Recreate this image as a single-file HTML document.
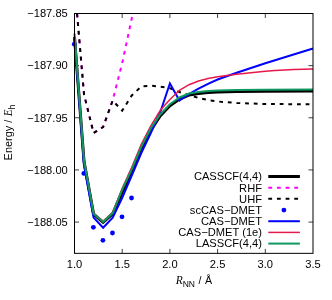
<!DOCTYPE html>
<html><head><meta charset="utf-8"><title>chart</title>
<style>html,body{margin:0;padding:0;background:#fff;width:332px;height:300px;overflow:hidden}</style>
</head><body>
<svg width="332" height="300" viewBox="0 0 332 300" style="position:absolute;left:0;top:0">
<defs><clipPath id="c"><rect x="71.50" y="13.50" width="244.50" height="239.85"/></clipPath></defs>
<rect width="332" height="300" fill="#fff"/>
<path d="M122.20,253.35 v-4.5 M122.20,13.5 v4.5 M169.90,253.35 v-4.5 M169.90,13.5 v4.5 M217.60,253.35 v-4.5 M217.60,13.5 v4.5 M265.30,253.35 v-4.5 M265.30,13.5 v4.5 M74.5,65.64 h4.5 M313.0,65.64 h-4.5 M74.5,117.78 h4.5 M313.0,117.78 h-4.5 M74.5,169.92 h4.5 M313.0,169.92 h-4.5 M74.5,222.07 h4.5 M313.0,222.07 h-4.5" stroke="#000" stroke-width="0.75" fill="none"/>
<g clip-path="url(#c)" fill="none" stroke-linejoin="miter">
<path d="M74.50,37.00 L84.04,161.50 L93.58,214.10 L103.12,222.30 L112.66,213.90 L122.20,192.20 L131.74,171.80 L141.28,149.00 L150.82,130.30 L160.36,115.70 L169.90,105.80 L179.44,99.00 L188.98,95.00 L198.52,93.40 L208.06,92.50 L217.60,92.00 L236.68,91.50 L265.30,91.30 L313.00,91.00" stroke="#000" stroke-width="3"/>
<path d="M74.50,-16.00 L84.04,94.50 L93.58,133.00 L103.12,127.00 L112.66,100.50 L122.20,63.00 L131.74,18.50 L141.28,-40.00" stroke="#ff00ff" stroke-width="2" stroke-dasharray="3.8,4.85" stroke-dashoffset="4.9"/>
<path d="M74.50,-16.00 L84.04,94.50 L93.58,133.00 L103.12,127.00 L112.66,100.50 L122.20,110.70 L131.74,95.50 L141.28,86.50 L150.82,85.70 L160.36,86.70 L169.90,88.20 L179.44,92.00 L188.98,95.00 L198.52,98.00 L208.06,100.00 L217.60,101.50 L236.68,103.00 L265.30,104.00 L313.00,104.30" stroke="#000" stroke-width="2" stroke-dasharray="3.8,4.85" stroke-dashoffset="4.9"/>
</g>
<circle cx="74.30" cy="44.20" r="2.4" fill="#0000ff"/>
<circle cx="83.84" cy="173.40" r="2.4" fill="#0000ff"/>
<circle cx="93.38" cy="227.30" r="2.4" fill="#0000ff"/>
<circle cx="102.92" cy="240.30" r="2.4" fill="#0000ff"/>
<circle cx="112.46" cy="233.00" r="2.4" fill="#0000ff"/>
<circle cx="122.00" cy="216.80" r="2.4" fill="#0000ff"/>
<circle cx="131.54" cy="198.00" r="2.4" fill="#0000ff"/>
<g clip-path="url(#c)" fill="none" stroke-linejoin="miter">
<path d="M74.50,37.50 L84.04,165.50 L93.58,217.60 L103.12,227.80 L112.66,217.80 L122.20,197.80 L131.74,175.50 L141.28,153.00 L150.82,133.00 L160.36,112.00 L169.90,83.50 L179.44,100.50 L188.98,94.00 L198.52,88.60 L208.06,83.80 L217.60,79.50 L236.68,72.80 L265.30,63.30 L313.00,48.50" stroke="#0000ff" stroke-width="2"/>
<path d="M74.50,34.50 L84.04,160.00 L93.58,213.10 L103.12,221.20 L112.66,212.40 L122.20,188.40 L131.74,167.30 L141.28,144.30 L150.82,125.80 L160.36,110.30 L169.90,99.50 L179.44,90.30 L188.98,84.70 L198.52,81.00 L208.06,78.50 L217.60,76.80 L227.14,75.50 L236.68,74.30 L246.22,73.20 L255.76,72.20 L265.30,71.30 L274.84,70.50 L284.38,70.00 L293.92,69.60 L303.46,69.30 L313.00,69.00" stroke="#e6194b" stroke-width="1.5"/>
<path d="M74.50,33.50 L84.04,160.50 L93.58,213.70 L103.12,221.90 L112.66,213.10 L122.20,189.70 L131.74,169.30 L141.28,146.80 L150.82,128.30 L160.36,114.20 L169.90,104.30 L179.44,97.50 L188.98,93.50 L198.52,91.90 L208.06,91.00 L217.60,90.50 L236.68,90.00 L265.30,89.80 L313.00,89.50" stroke="#0f9960" stroke-width="2"/>
</g>
<rect x="74.5" y="13.5" width="238.50" height="239.85" fill="none" stroke="#000" stroke-width="1"/>
<g font-family="Liberation Sans, sans-serif" font-size="10.67px" fill="#000" opacity="0.999">
<text transform="translate(67.8,17.30) scale(1.045,1)" text-anchor="end">−<tspan dx="0.1">187.85</tspan></text>
<text transform="translate(67.8,69.44) scale(1.045,1)" text-anchor="end">−<tspan dx="0.1">187.90</tspan></text>
<text transform="translate(67.8,121.58) scale(1.045,1)" text-anchor="end">−<tspan dx="0.1">187.95</tspan></text>
<text transform="translate(67.8,173.72) scale(1.045,1)" text-anchor="end">−<tspan dx="0.1">188.00</tspan></text>
<text transform="translate(67.8,225.87) scale(1.045,1)" text-anchor="end">−<tspan dx="0.1">188.05</tspan></text>
<text transform="translate(74.50,268.2) scale(1.045,1)" text-anchor="middle">1.0</text>
<text transform="translate(122.20,268.2) scale(1.045,1)" text-anchor="middle">1.5</text>
<text transform="translate(169.90,268.2) scale(1.045,1)" text-anchor="middle">2.0</text>
<text transform="translate(217.60,268.2) scale(1.045,1)" text-anchor="middle">2.5</text>
<text transform="translate(265.30,268.2) scale(1.045,1)" text-anchor="middle">3.0</text>
<text transform="translate(313.00,268.2) scale(1.045,1)" text-anchor="middle">3.5</text>
<text y="283.7"><tspan x="175.8" font-family="Liberation Serif, serif" font-style="italic" font-size="11.5px">R</tspan><tspan x="182.7" font-size="8.5px" dy="3.1">NN</tspan><tspan x="198.6" dy="-3.1">/</tspan><tspan x="205">Å</tspan></text>
<text transform="translate(11.8,160.4) rotate(-90) scale(1.025,1.08)"><tspan x="0">Energy</tspan><tspan x="36.7">/</tspan><tspan x="43.0" font-family="Liberation Serif, serif" font-style="italic" font-size="10.8px">E</tspan><tspan x="49.5" font-size="9px" dy="3.3">h</tspan></text>
<text transform="translate(262,180.40) scale(1.045,1)" text-anchor="end">CASSCF(4,4)</text>
<text transform="translate(262,191.58) scale(1.045,1)" text-anchor="end">RHF</text>
<text transform="translate(262,202.76) scale(1.045,1)" text-anchor="end">UHF</text>
<text transform="translate(262,213.94) scale(1.045,1)" text-anchor="end">scCAS−DMET</text>
<text transform="translate(262,225.12) scale(1.045,1)" text-anchor="end">CAS−DMET</text>
<text transform="translate(262,236.30) scale(1.045,1)" text-anchor="end">CAS−DMET (1e)</text>
<text transform="translate(262,247.48) scale(1.045,1)" text-anchor="end">LASSCF(4,4)</text>
</g>
<path d="M268.3,176.50 H299.9" stroke="#000" stroke-width="3"/>
<path d="M268.3,187.68 H299.9" stroke="#ff00ff" stroke-width="2" stroke-dasharray="3.8,4.85"/>
<path d="M268.3,198.86 H299.9" stroke="#000" stroke-width="2" stroke-dasharray="3.8,4.85"/>
<circle cx="283.9" cy="210.04" r="2.4" fill="#0000ff"/>
<path d="M268.3,221.22 H299.9" stroke="#0000ff" stroke-width="2"/>
<path d="M268.3,232.40 H299.9" stroke="#e6194b" stroke-width="1.5"/>
<path d="M268.3,243.58 H299.9" stroke="#0f9960" stroke-width="2"/>
</svg>
</body></html>
